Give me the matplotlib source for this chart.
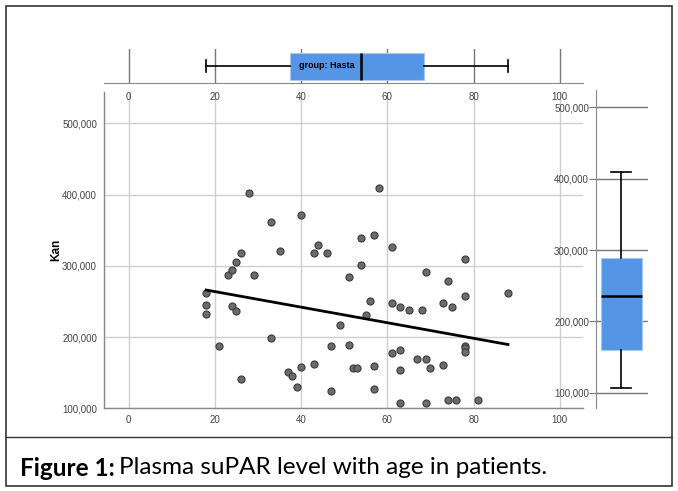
import numpy as np
import matplotlib
matplotlib.use("Agg")
import matplotlib.pyplot as plt
from matplotlib.patches import Rectangle
from matplotlib.lines import Line2D
from matplotlib.ticker import FuncFormatter

# age (years) and suPAR level
age = [18, 18, 18, 21, 23, 24, 25, 26, 24, 25, 29, 33, 26, 35, 37, 38, 39, 40,
       43, 43, 46, 47, 47, 49, 28, 33, 40, 44, 58, 54, 57, 61, 78, 54, 51, 69,
       74, 78, 88, 56, 55, 61, 63, 65, 68, 73, 75, 51, 52, 53, 57, 57, 61, 63,
       63, 67, 69, 70, 73, 78, 78, 78, 63, 69, 74, 76, 81]
kan = [262, 245, 232, 187, 287, 294, 305, 318, 244, 236, 287, 198, 141, 321,
       151, 145, 130, 158, 162, 318, 318, 187, 124, 217, 402, 362, 371, 329,
       409, 339, 343, 327, 309, 301, 284, 291, 279, 258, 262, 250, 231, 248,
       242, 238, 238, 248, 242, 189, 156, 156, 160, 127, 177, 182, 154, 169,
       169, 157, 161, 187, 184, 179, 108, 107, 112, 111, 111]
kan = [v * 1000 for v in kan]

x_ticks = [0, 20, 40, 60, 80, 100]
y_ticks = [100000, 200000, 300000, 400000, 500000]
group_label = "group: Hasta"
y_label = "Kan"

W, H = 678, 491
fig = plt.figure(figsize=(W / 100, H / 100), dpi=100)

def box(l, t, r, b):
    return [l / W, 1 - b / H, (r - l) / W, (b - t) / H]

narrow = ["Liberation Sans Narrow", "Liberation Sans", "DejaVu Sans"]
tick_col = "#444444"
comma = FuncFormatter(lambda v, p: f"{int(v):,}")
xlim = (-5.73, 105.4)

# main scatter
ax = fig.add_axes(box(104, 92, 583, 408.3))
ax.scatter(age, kan, s=26, c="#6b6b6b", edgecolors="#3a3a3a", linewidths=0.8, zorder=3)
coef = np.polyfit(age, kan, 1)
xs = np.array([min(age), max(age)])
ax.plot(xs, np.polyval(coef, xs), color="black", lw=2.0, zorder=4)
ax.set_xlim(*xlim)
ax.set_ylim(100000, 543900)
ax.set_xticks(x_ticks)
ax.set_yticks(y_ticks)
ax.yaxis.set_major_formatter(comma)
ax.grid(True, color="#cfcfcf", lw=1.0)
ax.set_axisbelow(True)
for s in ["top", "right"]:
    ax.spines[s].set_visible(False)
for s in ["left", "bottom"]:
    ax.spines[s].set_color("#888888")
    ax.spines[s].set_linewidth(1.0)
ax.tick_params(length=0, labelsize=7, labelcolor=tick_col, pad=5)
for lab in ax.get_xticklabels() + ax.get_yticklabels():
    lab.set_family(narrow)
ax.set_ylabel(y_label, fontsize=8.5, weight="bold", family=["Liberation Sans", "DejaVu Sans"])
ax.yaxis.set_label_coords(-0.087, 0.5)

# top boxplot of age
axt = fig.add_axes(box(104, 49, 583, 82.7))
bp = axt.boxplot([age], vert=False, positions=[0.485], widths=0.81, whis=(0, 100),
                 patch_artist=True, showfliers=False)
for b in bp["boxes"]:
    b.set(facecolor="#5595e6", edgecolor="#a9c8f2", lw=0.8)
for m in bp["medians"]:
    m.set(color="black", lw=1.8)
for w in bp["whiskers"]:
    w.set(color="black", lw=1.2)
for c in bp["caps"]:
    c.set(color="black", lw=1.2)
    c.set_ydata([0.485 - 0.18, 0.485 + 0.18])
q1 = np.percentile(age, 25)
axt.text(q1 + 2.0, 0.5, group_label, fontsize=6.5, weight="bold", va="center",
         ha="left", family=narrow, zorder=5)
axt.set_xlim(*xlim)
axt.set_ylim(0, 1)
axt.set_xticks(x_ticks)
axt.set_yticks([])
axt.grid(True, axis="x", color="#777777", lw=1.0)
axt.set_axisbelow(True)
for s in ["top", "right", "left"]:
    axt.spines[s].set_visible(False)
axt.spines["bottom"].set_color("#888888")
axt.tick_params(length=0, labelsize=7, labelcolor=tick_col, pad=6.5)
for lab in axt.get_xticklabels():
    lab.set_family(narrow)
axt.patch.set_alpha(0)

# right boxplot of kan
axr = fig.add_axes(box(596, 90, 648, 408))
bp = axr.boxplot([kan], positions=[0.485], widths=0.79, whis=(0, 100),
                 patch_artist=True, showfliers=False)
for b in bp["boxes"]:
    b.set(facecolor="#5595e6", edgecolor="#a9c8f2", lw=0.8)
for m in bp["medians"]:
    m.set(color="black", lw=1.8)
for w in bp["whiskers"]:
    w.set(color="black", lw=1.2)
for c in bp["caps"]:
    c.set(color="black", lw=1.2)
    c.set_xdata([0.485 - 0.19, 0.485 + 0.19])
axr.set_xlim(0, 1)
axr.set_ylim(78556, 524250)
axr.set_yticks(y_ticks)
axr.yaxis.set_major_formatter(comma)
axr.set_xticks([])
axr.grid(True, axis="y", color="#777777", lw=1.0)
axr.set_axisbelow(True)
for s in ["top", "right", "bottom"]:
    axr.spines[s].set_visible(False)
axr.spines["left"].set_color("#888888")
axr.tick_params(axis="y", length=5, color="#777777", labelsize=7,
                labelcolor=tick_col, pad=0)
for lab in axr.get_yticklabels():
    lab.set_family(narrow)
axr.patch.set_alpha(0)

# frame and caption
fig.patches.append(Rectangle((6 / W, 1 - 486 / H), 666 / W, 480 / H,
                             transform=fig.transFigure, fill=False,
                             edgecolor="#333333", lw=1.2))
fig.lines.append(Line2D([6 / W, 672 / W], [1 - 437 / H, 1 - 437 / H],
                        transform=fig.transFigure, color="#333333", lw=1.0))
cap_font = ["Lato", "DejaVu Sans"]
t1 = fig.text(20 / W, 1 - 468 / H, "Figure 1:", fontsize=17.5, weight="bold",
              family=cap_font, va="center", ha="left")
fig.canvas.draw()
bb = t1.get_window_extent()
fig.text(bb.x1 / W + 0.007, 1 - 468 / H, "Plasma suPAR level with age in patients.",
         fontsize=17.5, family=cap_font, va="center", ha="left")

fig.savefig("out.png", dpi=100)
